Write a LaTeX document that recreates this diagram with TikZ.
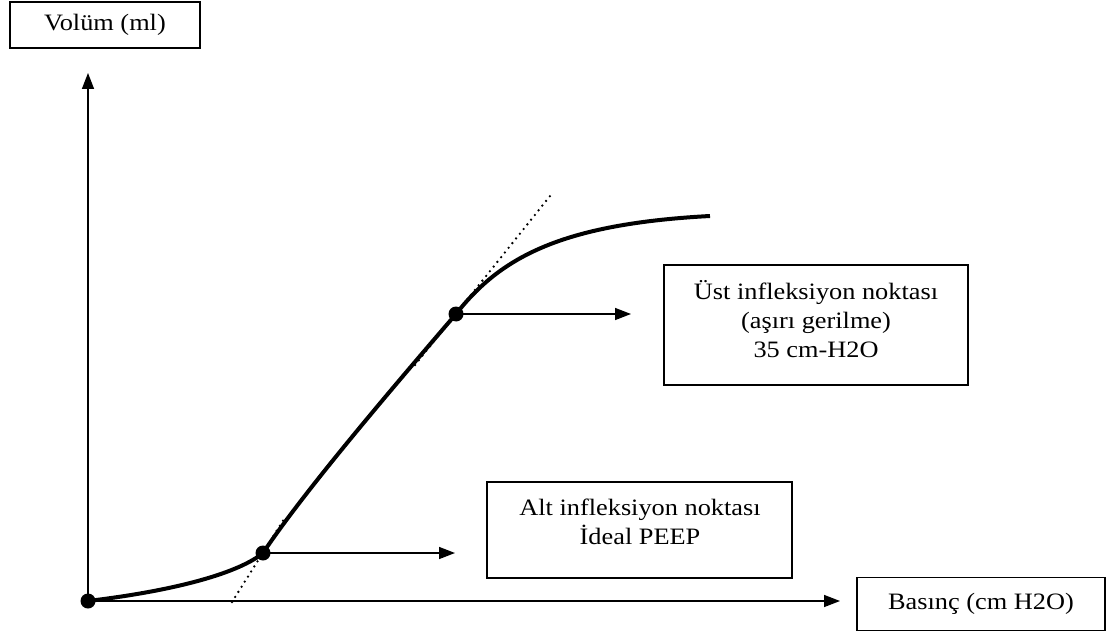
\documentclass[tikz,border=0pt]{standalone}
\usepackage{fontspec}
\setmainfont[FakeStretch=1.12]{Liberation Serif}
\usetikzlibrary{arrows.meta}
\tikzset{dt/.style={circle, fill=black, inner sep=0pt, minimum size=15pt},
  box/.style={draw, line width=1.5pt, inner sep=0pt},
  txt/.style={align=center, inner sep=0pt, font=\fontsize{23.5}{29}\selectfont}}

\begin{document}
\begin{tikzpicture}[x=1pt, y=-1pt, >={Triangle[length=16pt, width=12pt]}]
        \useasboundingbox (0,0) rectangle (1107,636);
        \coordinate (ytop) at (88,73);
        \coordinate (xend) at (840,601);
        \coordinate (e) at (710,216);
        \coordinate (ltan) at (232,602);
        \coordinate (ltan2) at (286,516);
        \coordinate (utan) at (415,365);
        \coordinate (utan2) at (550,196);
        \coordinate (larr) at (455,553);
        \coordinate (uarr) at (631,314);
        \coordinate (o) at (88,601);
        \coordinate (lo) at (263,553);
        \coordinate (hi) at (456,314);
        \draw[line width=1.5pt, ->] (o) -- (ytop);
        \draw[line width=1.5pt, ->] (o) -- (xend);
        \draw[line width=2.6pt, line cap=round, dash pattern=on 0pt off 6pt] (ltan) -- (ltan2) (utan) -- (utan2);
        \draw[line width=4pt] (o) .. controls (180,590) and (240,572) .. (lo)
          .. controls (305,490) and (395,385) .. (hi)
          .. controls (500,258) and (560,224) .. (e);
        \node[dt] (odot) at (o) {};
        \node[dt] (lodot) at (lo) {};
        \node[dt] (hidot) at (hi) {};
        \draw[line width=1.5pt, ->] (lodot.center) -- (larr);
        \draw[line width=1.5pt, ->] (hidot.center) -- (uarr);
        % boxes
        \node[box, minimum width=190pt, minimum height=46pt] (vol) at (105,25) {};
        \node[txt] (voltxt) at (vol) {Volüm (ml)};
        \node[box, minimum width=248pt, minimum height=53pt] (bas) at (981,604) {};
        \node[txt] (bastxt) at (bas) {Basınç (cm H2O)};
        \node[box, minimum width=305pt, minimum height=96pt] (alt) at (639.5,530) {};
        \node[txt] (alttxt) at (640,522) {Alt infleksiyon noktası\\İdeal PEEP};
        \node[box, minimum width=304pt, minimum height=120pt] (ust) at (816,325) {};
        \node[txt] (usttxt) at (816,319) {Üst infleksiyon noktası\\(aşırı gerilme)\\35 cm-H2O};
      \end{tikzpicture}
\end{document}
